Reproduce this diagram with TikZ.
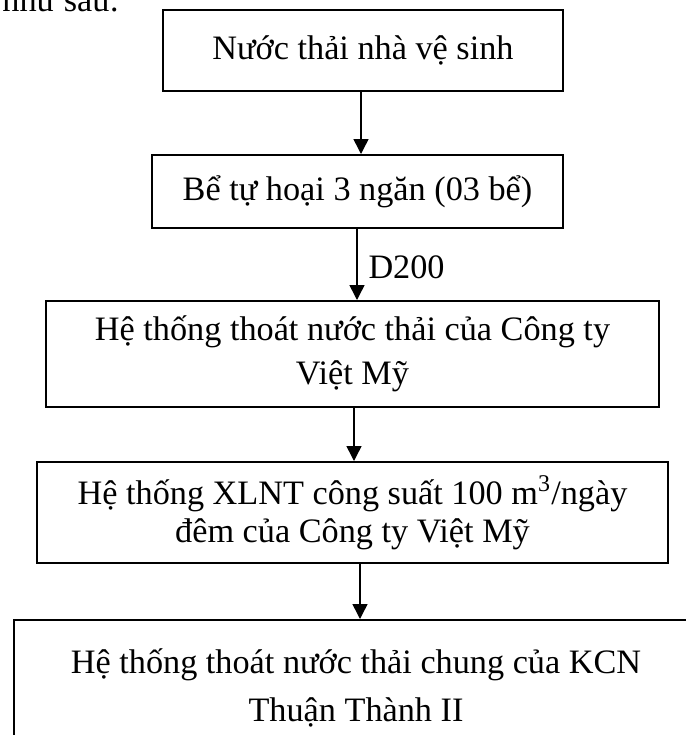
\documentclass[tikz,border=0pt]{standalone}
\usepackage{fontspec}
\setmainfont{Liberation Serif}
\usetikzlibrary{arrows.meta}
\begin{document}
\begin{tikzpicture}[x=0.4pt,y=-0.4pt,
  box/.style={draw, line width=0.8pt, inner sep=0pt, align=center},
  arr/.style={line width=0.6pt, -{Triangle[width=6pt,length=6pt]}},
  lbl/.style={font=\fontsize{13.7}{16}\selectfont, inner sep=0pt}]
\useasboundingbox (0,0) rectangle (686,735);
\clip (0,0) rectangle (686,735);
\node[lbl, anchor=base west] (intro) at (2,11) {như sau:};
\node[box, minimum width=160pt, minimum height=32.4pt, font=\fontsize{13.7}{17.6}\selectfont] (b1) at (363,50.5) {Nước thải nhà vệ sinh};
\node[box, minimum width=164.4pt, minimum height=29.2pt, font=\fontsize{13.7}{17.6}\selectfont] (b2) at (357.5,191.5) {Bể tự hoại 3 ngăn (03 bể)};
\node[box, minimum width=245.2pt, minimum height=42.4pt, font=\fontsize{13.7}{17.6}\selectfont] (b3) at (352.5,354) {Hệ thống thoát nước thải của Công ty\\Việt Mỹ};
\node[box, minimum width=252.4pt, minimum height=40.4pt, font=\fontsize{13.7}{15.2}\selectfont] (b4) at (352.5,512.5) {Hệ thống XLNT công suất 100 m\textsuperscript{3}/ngày\\đêm của Công ty Việt Mỹ};
\node[box, minimum width=273.6pt, minimum height=54.4pt, font=\fontsize{13.7}{19.2}\selectfont] (b5) at (356,688) {Hệ thống thoát nước thải chung của KCN\\Thuận Thành II};
\coordinate (x1) at (361,0);
\coordinate (x2) at (357,0);
\coordinate (x3) at (354,0);
\coordinate (x4) at (360,0);
\draw[arr] (b1.south -| x1) -- (b2.north -| x1);
\draw[arr] (b2.south -| x2) -- (b3.north -| x2);
\draw[arr] (b3.south -| x3) -- (b4.north -| x3);
\draw[arr] (b4.south -| x4) -- (b5.north -| x4);
\node[lbl, anchor=base west] (d200) at (368,278) {D200};
\end{tikzpicture}
\end{document}
